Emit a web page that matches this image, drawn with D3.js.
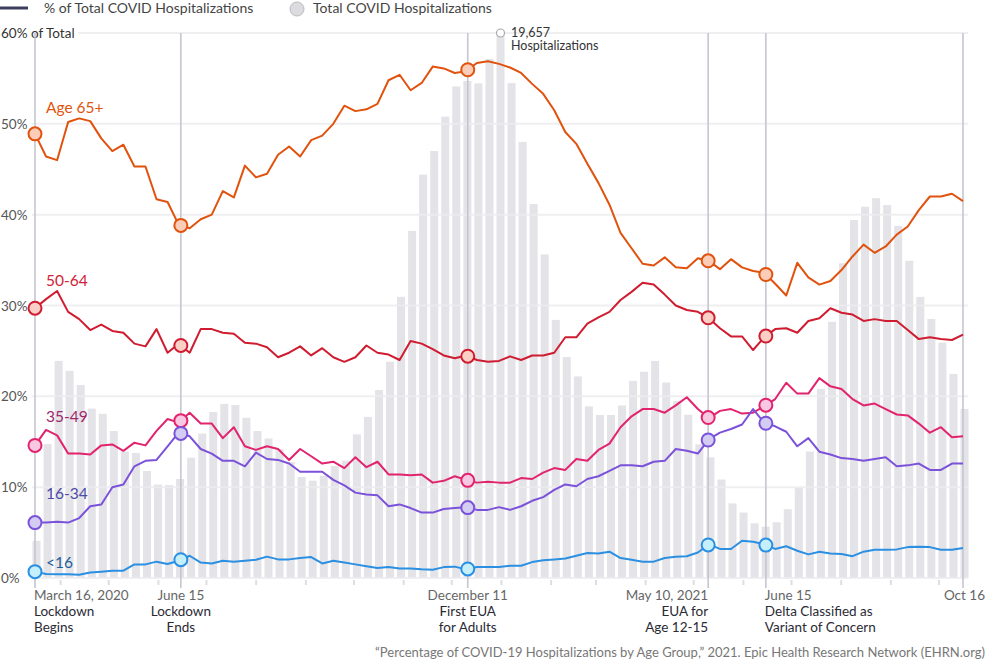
<!DOCTYPE html>
<html>
<head>
<meta charset="utf-8">
<script src="https://cdn.jsdelivr.net/npm/d3@7"></script>
<style>
  body { margin: 0; background: #fff; }
  svg { font-family: Lato, "Open Sans", sans-serif; }
</style>
</head>
<body>
<div id="chart"></div>
<script>
// Chart setup
const width = 1000;
const height = 660;
const plot = { left: 35, right: 963, top: 33, bottom: 578 };

// Weekly total COVID hospitalizations (bars)
const hospitalizations = [
  1340, 4830, 7830, 7470, 6960, 6110, 5920, 5300, 4560, 4510,
  3860, 3370, 3350, 3570, 4340, 5210, 5990, 6280, 6240, 5780,
  5300, 5030, 4650, 4180, 3640, 3510, 3690, 4040, 4230, 5180,
  5810, 6780, 7800, 10140, 12520, 14550, 15400, 16640, 17730, 17930,
  17840, 18720, 19657, 17850, 15730, 13490, 11670, 9310, 7970, 7270,
  6190, 5880, 5880, 6220, 7110, 7440, 7830, 7050, 6380, 5890,
  4820, 4350, 3550, 2690, 2360, 1970, 1850, 2010, 2480, 3260,
  4560, 6820, 9240, 11350, 12910, 13390, 13700, 13450, 12700, 11440,
  10140, 9340, 8490, 7360, 6100
];

// % of total hospitalizations by age group
const age65 = [
  48.9, 46.4, 46.0, 50.2, 50.6, 50.3, 48.4, 47.0, 47.7, 45.3,
  45.3, 41.7, 41.4, 38.9, 38.5, 39.5, 40.0, 42.6, 41.9, 45.4,
  44.1, 44.5, 46.6, 47.5, 46.4, 48.2, 48.7, 50.0, 52.0, 51.4,
  51.6, 52.2, 54.8, 55.4, 53.7, 54.5, 56.3, 56.1, 55.6, 55.8,
  56.7, 56.9, 56.6, 56.2, 55.6, 54.4, 53.3, 51.5, 49.1, 47.8,
  45.6, 43.5, 41.1, 38.0, 36.3, 34.6, 34.4, 35.3, 34.2, 34.1,
  35.2, 34.9, 34.0, 35.1, 34.2, 33.8, 33.6, 32.4, 31.1, 34.7,
  33.1, 32.3, 32.7, 33.9, 35.4, 36.7, 35.8, 36.5, 37.8, 38.7,
  40.5, 42.0, 42.0, 42.3, 41.5
];
const age5064 = [
  29.7, 30.7, 31.6, 29.3, 28.5, 27.3, 27.9, 27.2, 27.0, 25.8,
  25.5, 27.4, 24.8, 25.8, 24.8, 27.4, 27.4, 27.0, 26.9, 25.9,
  25.8, 25.4, 24.3, 24.8, 25.5, 24.5, 25.3, 24.3, 23.8, 24.3,
  25.6, 24.8, 24.6, 24.0, 26.1, 25.8, 25.2, 24.5, 24.2, 24.5,
  24.0, 23.8, 23.9, 24.4, 24.0, 24.5, 24.5, 24.8, 26.5, 26.5,
  28.0, 28.7, 29.3, 30.6, 31.5, 32.5, 32.3, 31.2, 30.0, 29.5,
  29.3, 28.6, 27.5, 26.6, 26.6, 25.1, 26.5, 27.4, 27.5, 27.0,
  28.3, 28.6, 29.7, 29.2, 29.0, 28.3, 28.5, 28.3, 28.3, 27.3,
  26.3, 26.5, 26.3, 26.2, 26.8
];
const age3549 = [
  14.6, 16.3, 15.7, 13.7, 13.7, 13.6, 14.6, 14.7, 14.0, 14.9,
  14.6, 16.2, 17.5, 17.1, 18.2, 17.0, 17.0, 15.4, 16.6, 14.5,
  14.1, 14.5, 14.2, 13.0, 14.2, 13.4, 12.6, 12.8, 12.1, 13.3,
  12.2, 12.8, 11.4, 11.4, 11.3, 11.4, 10.5, 10.7, 11.2, 10.8,
  10.5, 10.6, 10.5, 10.5, 11.0, 10.9, 11.6, 12.1, 11.9, 13.1,
  12.9, 14.1, 14.8, 16.6, 17.8, 18.6, 18.6, 18.2, 19.0, 19.9,
  18.6, 17.6, 18.4, 18.6, 18.1, 18.2, 18.9, 19.7, 21.5, 20.3,
  20.3, 22.0, 21.1, 20.8, 19.7, 19.0, 19.2, 18.6, 18.0, 17.9,
  17.0, 16.0, 16.6, 15.5, 15.6
];
const age1634 = [
  6.1, 6.1, 6.2, 6.1, 6.6, 7.9, 8.1, 10.0, 10.3, 12.3,
  12.9, 13.0, 14.5, 16.0, 15.6, 14.2, 13.7, 12.9, 12.9, 12.3,
  13.8, 13.1, 13.0, 12.6, 11.7, 11.7, 11.7, 10.8, 10.2, 9.4,
  9.2, 9.1, 7.9, 8.1, 7.7, 7.2, 7.2, 7.6, 7.7, 7.8,
  7.5, 7.5, 7.8, 7.5, 7.9, 8.5, 8.9, 9.7, 10.3, 10.1,
  10.9, 11.2, 11.8, 12.4, 12.4, 12.3, 12.8, 12.9, 14.2, 14.0,
  13.7, 15.3, 16.0, 16.4, 16.9, 18.6, 17.1, 16.7, 16.1, 14.5,
  15.4, 13.9, 13.6, 13.2, 13.1, 12.9, 13.1, 13.3, 12.3, 12.4,
  12.6, 11.9, 11.9, 12.6, 12.6
];
const ageUnder16 = [
  0.7, 0.45, 0.4, 0.4, 0.35, 0.6, 0.7, 0.8, 0.8, 1.5,
  1.5, 1.8, 1.55, 1.9, 2.45, 1.7, 1.6, 1.9, 1.8, 1.9,
  2.0, 2.35, 2.05, 2.05, 2.2, 2.3, 1.6, 1.9, 1.7, 1.5,
  1.3, 1.1, 1.2, 1.05, 1.05, 0.95, 0.9, 1.2, 1.25, 0.95,
  1.2, 1.2, 1.2, 1.35, 1.35, 1.75, 1.95, 2.05, 2.15, 2.45,
  2.75, 2.7, 2.9, 2.2, 2.0, 1.8, 1.8, 2.2, 2.35, 2.4,
  2.8, 3.7, 3.2, 3.2, 4.1, 4.0, 3.7, 3.2, 3.5, 3.0,
  2.6, 2.9, 2.7, 2.65, 2.4, 2.9, 3.1, 3.1, 3.15, 3.4,
  3.45, 3.4, 3.1, 3.1, 3.3
];

// Age groups (label, data, colours)
const groups = [
  { label: "Age 65+", values: age65, line: "#e0520d", fill: "#fbcdb9", text: "#e0560f", dy: -21 },
  { label: "50-64", values: age5064, line: "#d01c31", fill: "#f9cfc6", text: "#d0223a", dy: -22 },
  { label: "35-49", values: age3549, line: "#e2236e", fill: "#f8c8e2", text: "#a0266a", dy: -23 },
  { label: "16-34", values: age1634, line: "#7b52d9", fill: "#d3cdf3", text: "#4d4aa8", dy: -24 },
  { label: "<16", values: ageUnder16, line: "#2b8fe2", fill: "#c5effa", text: "#1f5e98", dy: -4 }
];

// Key dates shown on the axis
const events = [
  { date: new Date(2020, 2, 16), top: "March 16, 2020", lines: ["Lockdown", "Begins"], anchor: "start", marker: true },
  { date: new Date(2020, 5, 15), top: "June 15", lines: ["Lockdown", "Ends"], anchor: "middle", marker: true },
  { date: new Date(2020, 11, 11), top: "December 11", lines: ["First EUA", "for Adults"], anchor: "middle", marker: true },
  { date: new Date(2021, 4, 10), top: "May 10, 2021", lines: ["EUA for", "Age 12-15"], anchor: "end", marker: true },
  { date: new Date(2021, 5, 15), top: "June 15", lines: ["Delta Classified as", "Variant of Concern"], anchor: "start", marker: true },
  { date: new Date(2021, 9, 16), top: "Oct 16", lines: [], anchor: "end", marker: false }
];

const yTicks = [0, 10, 20, 30, 40, 50, 60];
const peakValue = 19657;

const svg = d3.select("#chart")
  .append("svg")
  .attr("width", width)
  .attr("height", height);

// Scales
const xIdx = d3.scaleLinear().domain([0, hospitalizations.length - 1]).range([plot.left, plot.right]);
const xTime = d3.scaleTime().domain([events[0].date, events[events.length - 1].date]).range([plot.left, plot.right]);
const y = d3.scaleLinear().domain([0, 60]).range([plot.bottom, plot.top]);
const yBar = d3.scaleLinear().domain([0, peakValue]).range([plot.bottom, plot.top]);

// Bars
svg.append("g")
  .selectAll("rect")
  .data(hospitalizations)
  .join("rect")
  .attr("x", (d, i) => xIdx(i) - 2.5)
  .attr("width", 8)
  .attr("y", d => yBar(d))
  .attr("height", d => plot.bottom - yBar(d))
  .attr("fill", "#e3e3e8");

// Horizontal grid + labels
const grid = svg.append("g");
yTicks.forEach(t => {
  grid.append("line")
    .attr("x1", t === 60 ? 78 : 32)
    .attr("x2", 968)
    .attr("y1", y(t))
    .attr("y2", y(t))
    .attr("stroke", "#ececee")
    .attr("stroke-opacity", 0.85)
    .attr("stroke-width", 2);
  grid.append("text")
    .attr("x", 1)
    .attr("y", y(t) + 5)
    .attr("font-size", 13.5)
    .attr("fill", t === 60 ? "#333" : "#555")
    .text(t === 60 ? "60% of Total" : t + "%");
});

// Monthly ticks along the bottom
const months = d3.timeMonth.range(d3.timeMonth.ceil(xTime.domain()[0]), xTime.domain()[1]);
svg.append("g")
  .selectAll("line")
  .data(months)
  .join("line")
  .attr("x1", d => xTime(d))
  .attr("x2", d => xTime(d))
  .attr("y1", plot.bottom + 2)
  .attr("y2", plot.bottom + 7)
  .attr("stroke", "#dedee2")
  .attr("stroke-width", 2);

// Event lines
svg.append("g")
  .selectAll("line")
  .data(events)
  .join("line")
  .attr("x1", d => xTime(d.date))
  .attr("x2", d => xTime(d.date))
  .attr("y1", plot.top)
  .attr("y2", plot.bottom + 10)
  .attr("stroke", "#c6c6d0")
  .attr("stroke-width", 1.6);

// Peak annotation
svg.append("circle")
  .attr("cx", xIdx(hospitalizations.indexOf(peakValue)) + 1.5)
  .attr("cy", yBar(peakValue))
  .attr("r", 4)
  .attr("fill", "#fff")
  .attr("stroke", "#aaa")
  .attr("stroke-width", 1.2);
const peakText = svg.append("text")
  .attr("x", xIdx(hospitalizations.indexOf(peakValue)) + 12)
  .attr("y", yBar(peakValue) + 4)
  .attr("font-size", 12.5)
  .attr("fill", "#333");
peakText.append("tspan").text(d3.format(",")(peakValue));
peakText.append("tspan").attr("x", xIdx(hospitalizations.indexOf(peakValue)) + 12).attr("dy", 13).text("Hospitalizations");

// Value on a line at a fractional index
function valueAt(values, fi) {
  const i0 = Math.max(0, Math.min(values.length - 2, Math.floor(fi)));
  const t = fi - i0;
  return values[i0] * (1 - t) + values[i0 + 1] * t;
}

// Lines, markers and labels
const line = d3.line().x((d, i) => xIdx(i)).y(d => y(d));
groups.forEach(g => {
  svg.append("path")
    .datum(g.values)
    .attr("d", line)
    .attr("fill", "none")
    .attr("stroke", g.line)
    .attr("stroke-width", 2)
    .attr("stroke-linejoin", "round");

  events.filter(e => e.marker).forEach(e => {
    const fi = xIdx.invert(xTime(e.date));
    svg.append("circle")
      .attr("cx", xTime(e.date))
      .attr("cy", y(valueAt(g.values, fi)))
      .attr("r", 6.5)
      .attr("fill", g.fill)
      .attr("stroke", g.line)
      .attr("stroke-width", 2);
  });

  svg.append("text")
    .attr("x", 46)
    .attr("y", y(g.values[0]) + g.dy)
    .attr("font-size", 15.5)
    .attr("fill", g.text)
    .text(g.label);
});

// Axis event labels
events.forEach(e => {
  const t = svg.append("text")
    .attr("x", xTime(e.date) + (e.anchor === "start" ? -1 : 0) + (e.top === "Oct 16" ? 22 : 0))
    .attr("y", 600)
    .attr("text-anchor", e.anchor)
    .attr("font-size", 13.5);
  t.append("tspan").attr("fill", "#666").text(e.top);
  e.lines.forEach(l => {
    t.append("tspan")
      .attr("x", xTime(e.date) + (e.anchor === "start" ? -1 : 0))
      .attr("dy", 16)
      .attr("fill", "#2a2a35")
      .text(l);
  });
});

// Legend
const legend = svg.append("g");
legend.append("line")
  .attr("x1", 0).attr("x2", 28)
  .attr("y1", 8).attr("y2", 8)
  .attr("stroke", "#3d3d5c")
  .attr("stroke-width", 3);
legend.append("text")
  .attr("x", 44).attr("y", 13)
  .attr("font-size", 14)
  .attr("fill", "#444")
  .text("% of Total COVID Hospitalizations");
legend.append("circle")
  .attr("cx", 297).attr("cy", 9).attr("r", 7)
  .attr("fill", "#dcdce0")
  .attr("stroke", "#bbb");
legend.append("text")
  .attr("x", 313).attr("y", 13)
  .attr("font-size", 14)
  .attr("fill", "#444")
  .text("Total COVID Hospitalizations");

// Source
svg.append("text")
  .attr("x", 985)
  .attr("y", 657)
  .attr("text-anchor", "end")
  .attr("font-size", 13)
  .attr("fill", "#777")
  .text("\u201cPercentage of COVID-19 Hospitalizations by Age Group,\u201d 2021. Epic Health Research Network (EHRN.org)");
</script>
</body>
</html>
